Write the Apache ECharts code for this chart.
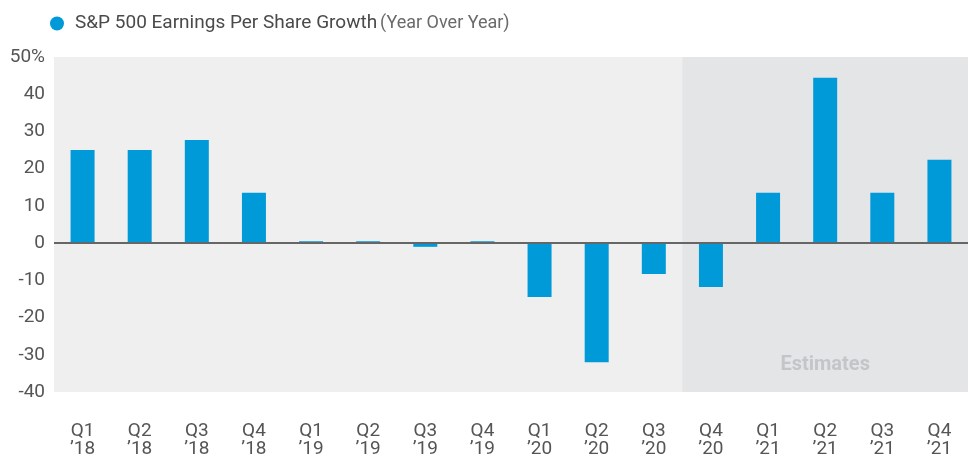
<!DOCTYPE html>
<html><head><meta charset="utf-8">
<script src="https://cdn.jsdelivr.net/npm/echarts@6/dist/echarts.min.js"></script>
<style>html,body{margin:0;padding:0;background:#fff}#c{width:969px;height:463px}</style>
</head><body><div id="c"></div>
<script>
const categories = ["Q1\n\u201918","Q2\n\u201918","Q3\n\u201918","Q4\n\u201918","Q1\n\u201919","Q2\n\u201919","Q3\n\u201919","Q4\n\u201919","Q1\n\u201920","Q2\n\u201920","Q3\n\u201920","Q4\n\u201920","Q1\n\u201921","Q2\n\u201921","Q3\n\u201921","Q4\n\u201921"];
const epsGrowth = [25, 25, 27.7, 13.5, 0.5, 0.5, -1, 0.5, -14.5, -32, -8.3, -11.8, 13.5, 44.4, 13.5, 22.4];
const yTicks = [-40, -30, -20, -10, 0, 10, 20, 30, 40, 50];
const seriesName = "S&P 500 Earnings Per Share Growth (Year Over Year)";
const estimateStart = "Q4\n\u201920";
const estimateEnd = "Q4\n\u201921";
const estimateLabel = "Estimates";

const FONT = "'Roboto','Liberation Sans',sans-serif";
const chart = echarts.init(document.getElementById('c'));
chart.setOption({
  animation: false,
  legend: {
    left: 45, top: 9,
    icon: 'circle', itemWidth: 14, itemHeight: 14, itemGap: 10,
    data: [seriesName],
    formatter: () => '{a|S&P 500 Earnings Per Share Growth} {b|(Year Over Year)}',
    textStyle: {
      fontFamily: FONT,
      padding: [0, 0, 0, 6],
      rich: {
        a: { fontFamily: FONT, fontSize: 19, color: '#4a4a4a' },
        b: { fontFamily: FONT, fontSize: 18, color: '#6a6a6a' }
      }
    }
  },
  grid: { left: 54, right: 1, top: 57, bottom: 71, show: true, backgroundColor: '#efefef', borderWidth: 0 },
  xAxis: {
    type: 'category', data: categories,
    axisLine: { show: false }, axisTick: { show: false },
    axisLabel: { margin: 30, fontFamily: FONT, fontSize: 19, color: '#555', lineHeight: 18, interval: 0 }
  },
  yAxis: {
    type: 'value', min: -40, max: 50, interval: 10,
    splitLine: { show: false }, axisLine: { show: false }, axisTick: { show: false },
    axisLabel: { margin: 9, fontFamily: FONT, fontSize: 19, color: '#555',
      formatter: v => v === yTicks[yTicks.length - 1] ? v + '%' : String(v) }
  },
  series: [{
    name: seriesName, type: 'bar', data: epsGrowth, barWidth: 24,
    itemStyle: { color: '#009ad9' },
    markArea: {
      silent: true,
      itemStyle: { color: '#e4e5e7' },
      label: { show: true, position: 'insideBottom', distance: 17, color: '#c3c5c8', fontFamily: FONT, fontSize: 20, fontWeight: 'bold' },
      data: [[{ xAxis: estimateStart, name: estimateLabel }, { xAxis: estimateEnd }]]
    },
    markLine: {
      silent: true, symbol: 'none', label: { show: false },
      lineStyle: { color: '#666', width: 2, type: 'solid' },
      data: [{ yAxis: 0 }]
    }
  }]
});
</script></body></html>
